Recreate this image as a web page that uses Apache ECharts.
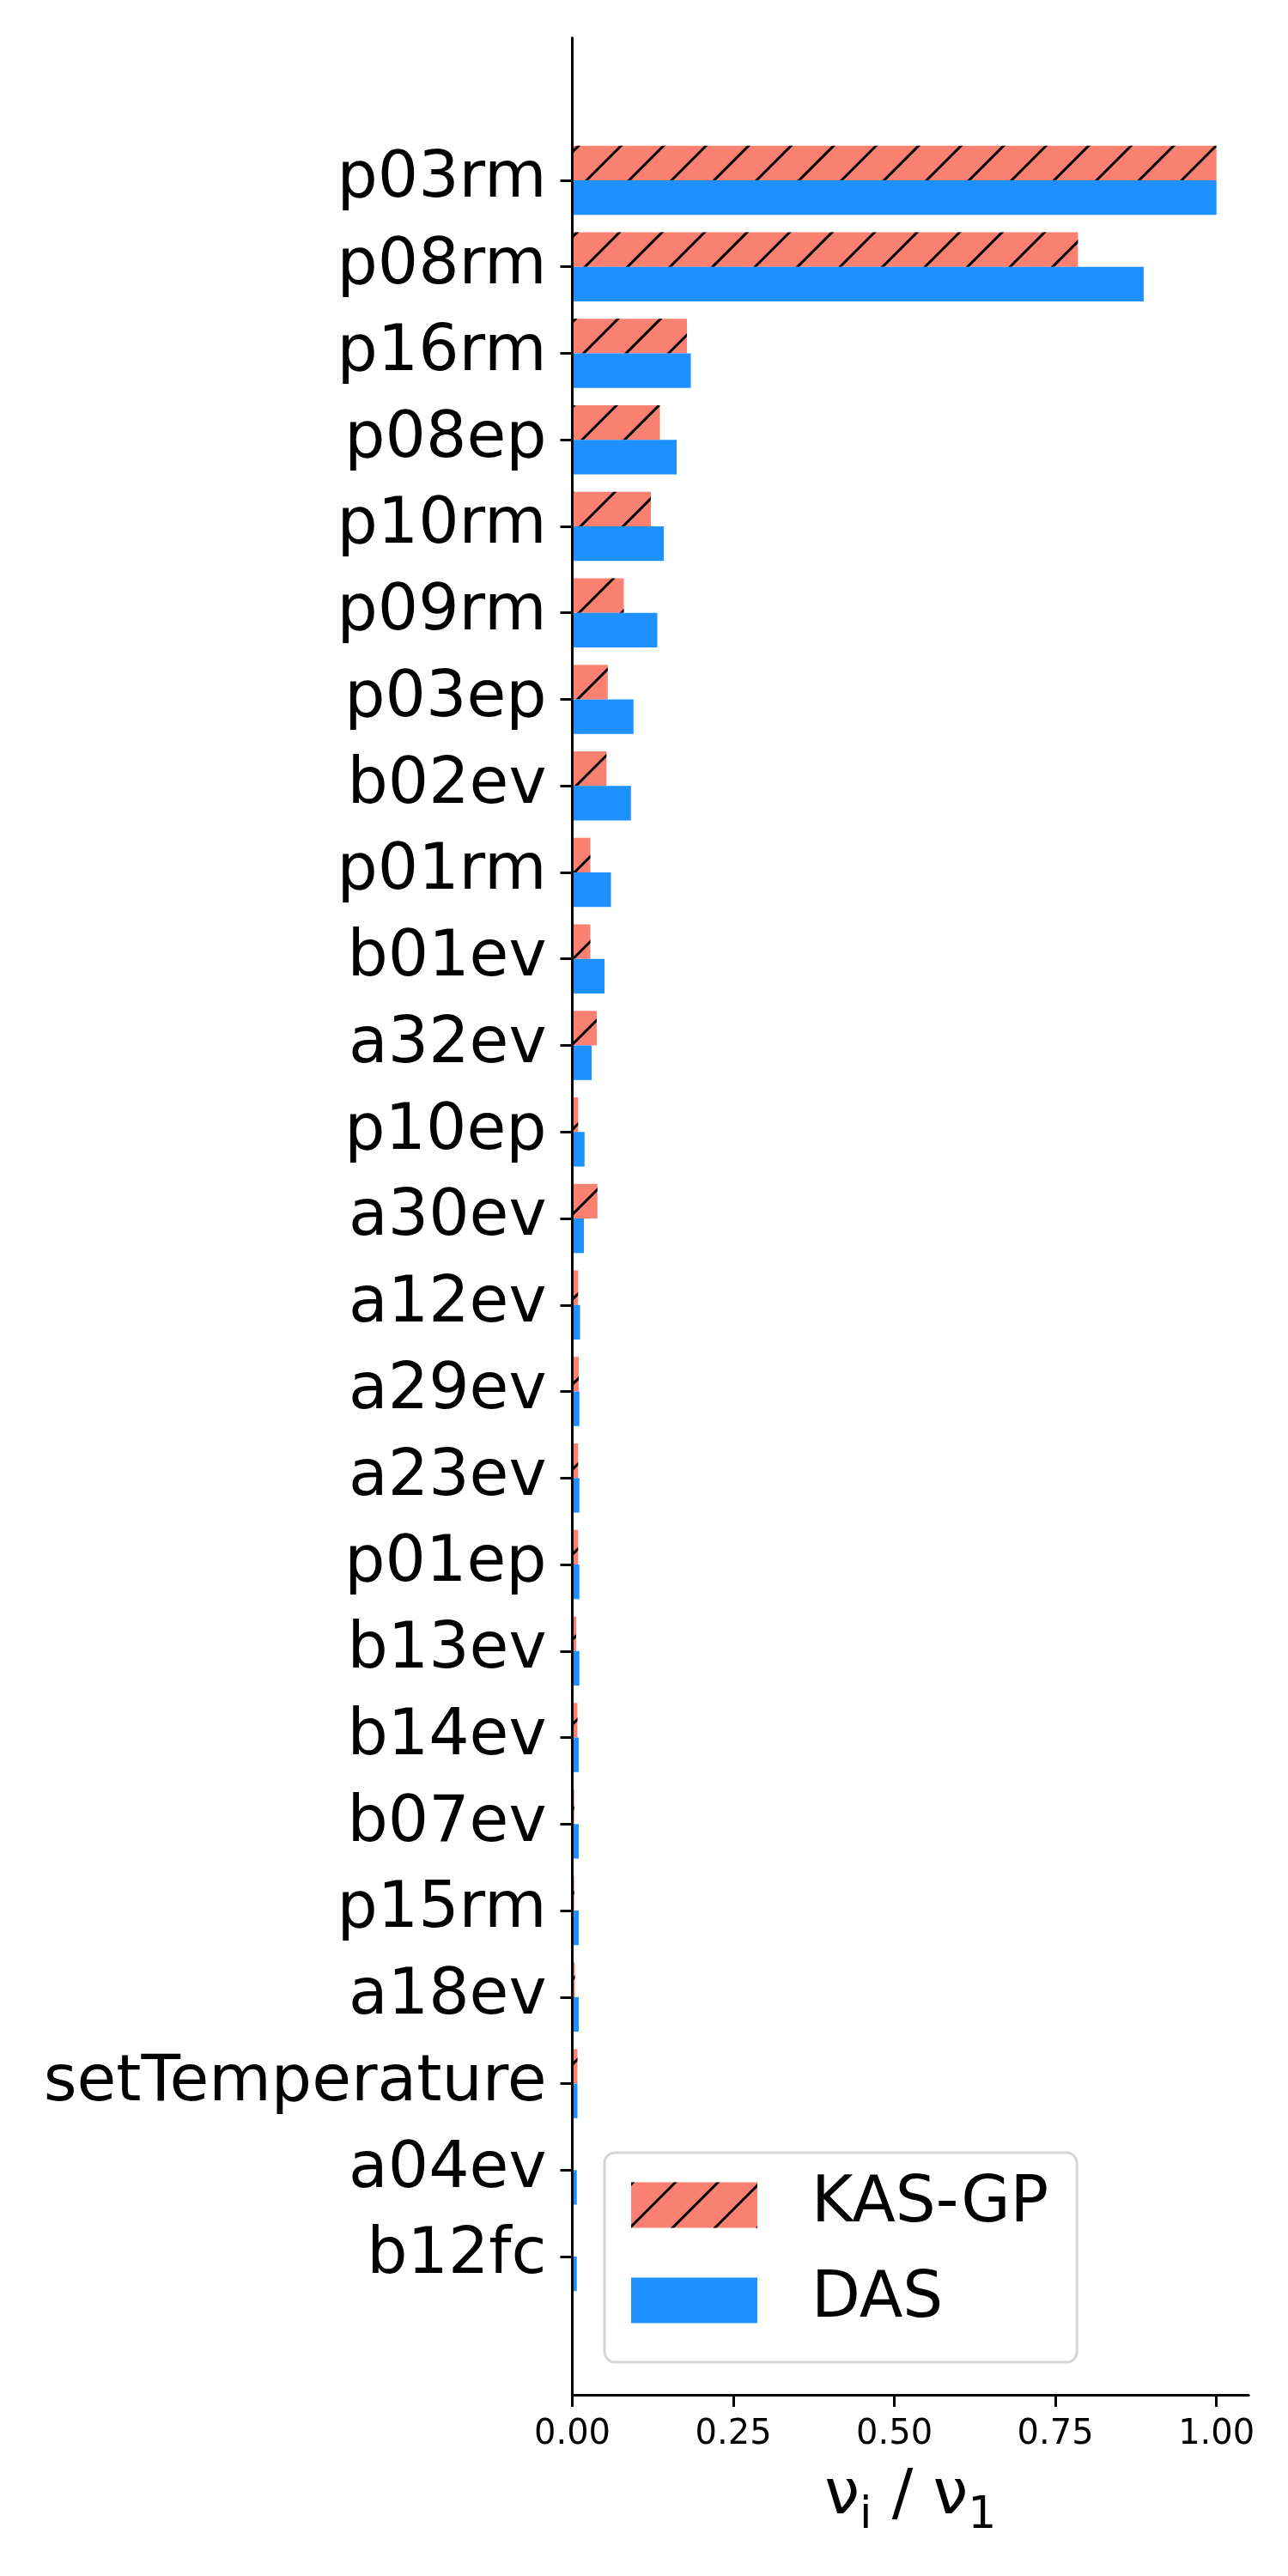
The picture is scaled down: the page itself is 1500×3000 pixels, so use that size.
<!DOCTYPE html>
<html>
<head>
<meta charset="utf-8">
<script src="https://cdn.jsdelivr.net/npm/echarts@6/dist/echarts.min.js"></script>
<style>
html,body{margin:0;padding:0;background:#fff;}
#chart{width:1500px;height:3000px;}
</style>
</head>
<body>
<div id="chart"></div>
<script>
const categories = ['p03rm','p08rm','p16rm','p08ep','p10rm','p09rm','p03ep','b02ev','p01rm','b01ev','a32ev','p10ep','a30ev','a12ev','a29ev','a23ev','p01ep','b13ev','b14ev','b07ev','p15rm','a18ev','setTemperature','a04ev','b12fc'];
const kasgp = [1.0, 0.785, 0.178, 0.136, 0.122, 0.080, 0.055, 0.053, 0.028, 0.028, 0.038, 0.009, 0.039, 0.009, 0.010, 0.009, 0.009, 0.006, 0.008, 0.003, 0.003, 0.004, 0.008, 0.002, 0.001];
const das = [1.0, 0.887, 0.184, 0.162, 0.142, 0.132, 0.095, 0.091, 0.060, 0.050, 0.030, 0.019, 0.018, 0.012, 0.011, 0.011, 0.011, 0.011, 0.010, 0.010, 0.010, 0.010, 0.008, 0.007, 0.007];
const xTicks = [0, 0.25, 0.5, 0.75, 1.0];
const seriesNames = ['KAS-GP', 'DAS'];
const xTitle = '{a|ν}{s|i}{a| / ν}{s|1}';

const FONT = 'DejaVu Sans';
const chart = echarts.init(document.getElementById('chart'), null, {renderer: 'canvas'});
const hatch = {
  symbol: 'rect',
  symbolSize: 1,
  color: '#000000',
  dashArrayX: [1, 0],
  dashArrayY: [3, 32],
  rotation: -Math.PI / 4
};
const option = {
  backgroundColor: '#ffffff',
  animation: false,
  grid: [
    {left: 666.5, right: 45.8, top: 159.6, bottom: 321.6},
    {left: 666.5, right: 45.8, top: 44, bottom: 211}
  ],
  xAxis: [
    {gridIndex: 0, type: 'value', min: 0, max: 1.05, show: false, splitLine: {show: false}},
    {gridIndex: 1, type: 'value', min: 0, max: 1.05,
      axisLine: {show: true, lineStyle: {color: '#000', width: 3}},
      axisTick: {show: true, length: 14, customValues: xTicks, lineStyle: {color: '#000', width: 3}},
      axisLabel: {show: true, customValues: xTicks, margin: 27, fontSize: 40, fontFamily: FONT, color: '#000',
        formatter: v => v.toFixed(2)},
      splitLine: {show: false},
      name: xTitle,
      nameLocation: 'middle',
      nameGap: 71,
      nameMoveOverlap: false,
      nameTextStyle: {
        fontFamily: FONT, color: '#000',
        rich: {
          a: {fontSize: 73, fontFamily: FONT, color: '#000', lineHeight: 96, verticalAlign: 'middle'},
          s: {fontSize: 52, fontFamily: FONT, color: '#000', lineHeight: 96, verticalAlign: 'bottom'}
        }
      }
    }
  ],
  yAxis: [
    {gridIndex: 0, type: 'category', data: categories, inverse: true,
      axisLine: {show: false},
      axisTick: {show: true, alignWithLabel: true, length: 14, lineStyle: {color: '#000', width: 3}},
      axisLabel: {show: true, margin: 30, fontSize: 74.5, fontFamily: FONT, color: '#000', interval: 0},
      splitLine: {show: false}
    },
    {gridIndex: 1, type: 'value', min: 0, max: 1, z: 10,
      axisLine: {show: true, lineStyle: {color: '#000', width: 3}},
      axisTick: {show: false}, axisLabel: {show: false}, splitLine: {show: false}
    }
  ],
  legend: {
    orient: 'vertical',
    left: 704, top: 2507,
    padding: [24, 33, 35, 31],
    itemWidth: 147, itemHeight: 53, itemGap: 37,
    backgroundColor: '#ffffff',
    borderColor: '#d6d6d6', borderWidth: 3, borderRadius: 12,
    icon: 'rect',
    textStyle: {fontSize: 74, fontFamily: FONT, color: '#000', padding: [0, 0, 0, 58]},
    data: seriesNames
  },
  series: [
    {name: seriesNames[0], type: 'bar', xAxisIndex: 0, yAxisIndex: 0, data: kasgp,
      barWidth: '40%', barGap: '0%',
      itemStyle: {color: '#FA8072', decal: hatch}},
    {name: seriesNames[1], type: 'bar', xAxisIndex: 0, yAxisIndex: 0, data: das,
      barWidth: '40%', barGap: '0%',
      itemStyle: {color: '#1E90FF'}}
  ]
};
chart.setOption(option);
</script>
</body>
</html>
